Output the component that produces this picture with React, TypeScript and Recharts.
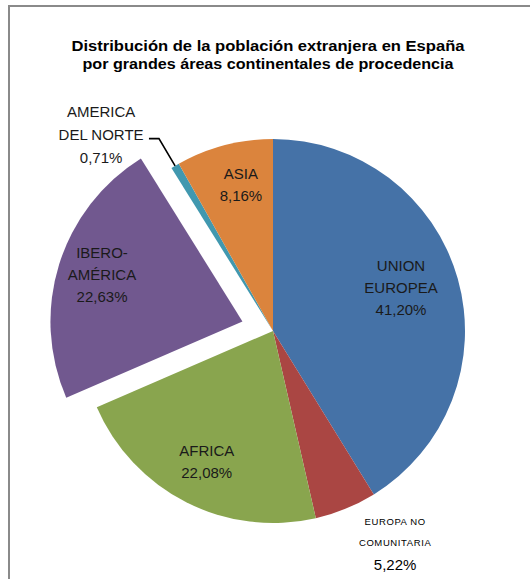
import { PieChart, Pie, Cell } from "recharts";

// distribution of foreign population in Spain, % by continental area
const categories = [
  "UNION EUROPEA",
  "EUROPA NO COMUNITARIA",
  "AFRICA",
  "IBERO-AMÉRICA",
  "AMERICA DEL NORTE",
  "ASIA",
];
const shares = [41.2, 5.22, 22.08, 22.63, 0.71, 8.16];
const labelLines = [
  ["UNION", "EUROPEA"],
  ["EUROPA  NO", "COMUNITARIA"],
  ["AFRICA"],
  ["IBERO-", "AMÉRICA"],
  ["AMERICA", "DEL NORTE"],
  ["ASIA"],
];
const colors = ["#4572A7", "#AA4643", "#89A54E", "#71588F", "#4198AF", "#DB843D"];
const titleLines = [
  "Distribución de la población extranjera en España",
  "por grandes áreas continentales de procedencia",
];

const W = 530;
const H = 579;
const CX = 273;
const CY = 331;
const R = 192;
const EXPLODED = 3;
const EXPLODE_DIST = 32;

// label placement: radius as fraction of R, angle nudge (deg)
const labelPos = [
  { r: 0.704, shift: 2.9 },
  { r: 1.269, shift: 7.8 },
  { r: 0.764, shift: 0 },
  { r: 0.77, shift: -0.9 },
  { r: 1.358, shift: 10.6 },
  { r: 0.779, shift: -2.3 },
];

const RAD = Math.PI / 180;
const fmtPct = (v: number) => v.toFixed(2).replace(".", ",") + "%";

const data = categories.map((name, i) => ({ name, value: shares[i] }));

// mid angle of exploded slice (recharts convention: degrees ccw from 3 o'clock)
const total = shares.reduce((a, b) => a + b, 0);
const before = shares.slice(0, EXPLODED).reduce((a, b) => a + b, 0);
const explodeMid = 90 - ((before + shares[EXPLODED] / 2) / total) * 360;
const EX = EXPLODE_DIST * Math.cos(explodeMid * RAD);
const EY = -EXPLODE_DIST * Math.sin(explodeMid * RAD);

const font = "'Liberation Sans', Arial, sans-serif";

function renderLabel(props: any) {
  const { midAngle, index } = props;
  const pos = labelPos[index];
  const a = (midAngle + pos.shift) * RAD;
  const ox = index === EXPLODED ? EX : 0;
  const oy = index === EXPLODED ? EY : 0;
  const x = CX + ox + R * pos.r * Math.cos(a);
  const y = CY + oy - R * pos.r * Math.sin(a);
  const lines = labelLines[index];
  const pct = fmtPct(shares[index]);

  if (index === 1) {
    return (
      <text x={x} y={y} textAnchor="middle" fill="#000" fontFamily={font}>
        <tspan x={x} y={y - 17} fontSize={9.5} letterSpacing={0.6}>{lines[0]}</tspan>
        <tspan x={x} y={y + 4} fontSize={9.5} letterSpacing={0.6}>{lines[1]}</tspan>
        <tspan x={x} y={y + 28} fontSize={15}>{pct}</tspan>
      </text>
    );
  }

  const all = [...lines, pct];
  const step = index === 4 ? 23 : 22;
  const first = y - ((all.length - 1) * step) / 2 + 5;
  let leader = null;
  if (index === 4) {
    const m = midAngle * RAD;
    const p0 = [CX + R * Math.cos(m), CY - R * Math.sin(m)];
    const p1 = [CX + R * 1.165 * Math.cos(m), CY - R * 1.165 * Math.sin(m)];
    const p2 = [p1[0] - 10, p1[1]];
    leader = (
      <polyline
        points={`${p0[0]},${p0[1]} ${p1[0]},${p1[1]} ${p2[0]},${p2[1]}`}
        fill="none"
        stroke="#000"
        strokeWidth={1.6}
      />
    );
  }
  return (
    <g>
      {leader}
      <text x={x} y={y} textAnchor="middle" fill="#1a1a1a" fontFamily={font} fontSize={15}>
        {all.map((t, i) => (
          <tspan key={i} x={x} y={first + i * step}>
            {t}
          </tspan>
        ))}
      </text>
    </g>
  );
}

export default function App() {
  return (
    <div
      style={{
        position: "absolute",
        left: 0,
        top: 0,
        width: W,
        height: H,
        overflow: "hidden",
        background: "#fff",
      }}
    >
      <PieChart
        width={W}
        height={H}
        margin={{ top: 0, right: 0, bottom: 0, left: 0 }}
        style={{ position: "absolute", left: 0, top: 0 }}
      >
        <Pie
          data={data}
          dataKey="value"
          nameKey="name"
          cx={CX}
          cy={CY}
          outerRadius={R}
          startAngle={90}
          endAngle={-270}
          stroke="none"
          labelLine={false}
          label={renderLabel}
          isAnimationActive={false}
        >
          {data.map((d, i) => (
            <Cell key={d.name} fill={i === EXPLODED ? "none" : colors[i]} />
          ))}
        </Pie>
        <Pie
          data={data}
          dataKey="value"
          nameKey="name"
          cx={CX + EX}
          cy={CY + EY}
          outerRadius={R}
          startAngle={90}
          endAngle={-270}
          stroke="none"
          labelLine={false}
          isAnimationActive={false}
        >
          {data.map((d, i) => (
            <Cell key={d.name} fill={i === EXPLODED ? colors[i] : "none"} />
          ))}
        </Pie>
      </PieChart>
      <svg
        width={W}
        height={H}
        style={{ position: "absolute", left: 0, top: 0, pointerEvents: "none" }}
      >
        <rect x={9} y={6} width={W + 20} height={H + 20} fill="none" stroke="#8a8a8a" strokeWidth={2} />
        <text
          x={268}
          y={51}
          textAnchor="middle"
          fontFamily={font}
          fontWeight="bold"
          fontSize={15}
          textLength={393}
          lengthAdjust="spacingAndGlyphs"
          fill="#000"
        >
          {titleLines[0]}
        </text>
        <text
          x={268}
          y={69}
          textAnchor="middle"
          fontFamily={font}
          fontWeight="bold"
          fontSize={15}
          textLength={371}
          lengthAdjust="spacingAndGlyphs"
          fill="#000"
        >
          {titleLines[1]}
        </text>
      </svg>
    </div>
  );
}
